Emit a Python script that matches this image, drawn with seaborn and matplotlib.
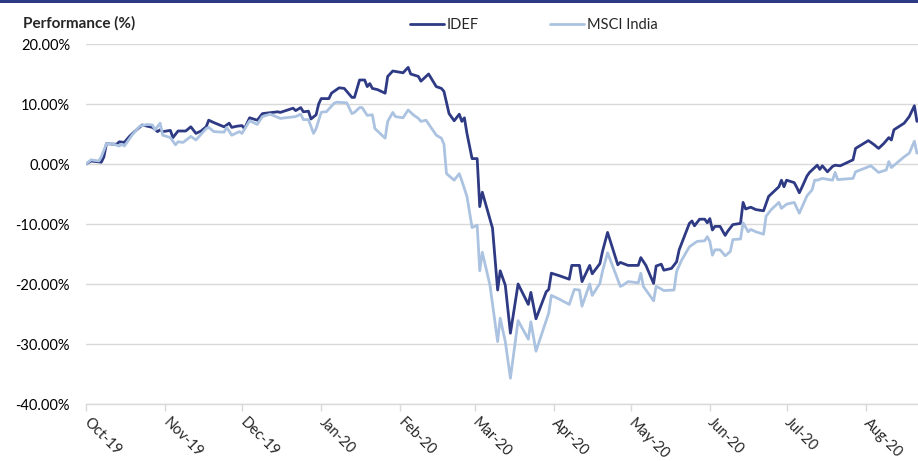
import matplotlib
matplotlib.use("Agg")
import matplotlib.pyplot as plt
import matplotlib.dates as mdates
from matplotlib.patches import Rectangle
from matplotlib.lines import Line2D
import seaborn as sns
import pandas as pd

# ---------------- data ----------------
series_names = ["IDEF", "MSCI India"]

idef_dates = [
    "2019-10-01", "2019-10-03", "2019-10-07", "2019-10-08", "2019-10-09", "2019-10-12", "2019-10-13",
    "2019-10-14", "2019-10-16", "2019-10-18", "2019-10-20", "2019-10-23", "2019-10-25", "2019-10-27",
    "2019-10-29", "2019-10-30", "2019-10-31", "2019-11-03", "2019-11-04", "2019-11-06", "2019-11-09",
    "2019-11-11", "2019-11-13", "2019-11-15", "2019-11-17", "2019-11-18", "2019-11-20", "2019-11-24",
    "2019-11-26", "2019-11-27", "2019-11-29", "2019-12-01", "2019-12-02", "2019-12-04", "2019-12-07",
    "2019-12-09", "2019-12-13", "2019-12-15", "2019-12-16", "2019-12-21", "2019-12-22", "2019-12-24",
    "2019-12-25", "2019-12-27", "2019-12-28", "2019-12-30", "2019-12-31", "2020-01-01", "2020-01-04",
    "2020-01-05", "2020-01-08", "2020-01-10", "2020-01-13", "2020-01-14", "2020-01-16", "2020-01-18",
    "2020-01-19", "2020-01-20", "2020-01-21", "2020-01-23", "2020-01-26", "2020-01-27", "2020-01-29",
    "2020-02-02", "2020-02-04", "2020-02-05", "2020-02-08", "2020-02-09", "2020-02-12", "2020-02-15",
    "2020-02-17", "2020-02-18", "2020-02-20", "2020-02-22", "2020-02-24", "2020-02-25", "2020-02-26",
    "2020-02-27", "2020-02-29", "2020-03-02", "2020-03-03", "2020-03-04", "2020-03-08", "2020-03-10",
    "2020-03-11", "2020-03-13", "2020-03-15", "2020-03-18", "2020-03-22", "2020-03-23", "2020-03-25",
    "2020-03-29", "2020-03-30", "2020-03-31", "2020-04-03", "2020-04-07", "2020-04-08", "2020-04-11",
    "2020-04-12", "2020-04-15", "2020-04-16", "2020-04-19", "2020-04-20", "2020-04-22", "2020-04-26",
    "2020-04-27", "2020-04-30", "2020-05-04", "2020-05-05", "2020-05-07", "2020-05-10", "2020-05-11",
    "2020-05-13", "2020-05-14", "2020-05-17", "2020-05-19", "2020-05-20", "2020-05-24", "2020-05-25",
    "2020-05-26", "2020-05-28", "2020-05-30", "2020-05-31", "2020-06-01", "2020-06-02", "2020-06-03",
    "2020-06-05", "2020-06-07", "2020-06-08", "2020-06-10", "2020-06-13", "2020-06-14", "2020-06-15",
    "2020-06-17", "2020-06-19", "2020-06-22", "2020-06-24", "2020-06-26", "2020-06-28", "2020-06-29",
    "2020-06-30", "2020-07-01", "2020-07-04", "2020-07-05", "2020-07-06", "2020-07-07", "2020-07-09",
    "2020-07-10", "2020-07-13", "2020-07-14", "2020-07-15", "2020-07-17", "2020-07-19", "2020-07-20",
    "2020-07-22", "2020-07-27", "2020-07-28", "2020-08-02", "2020-08-04", "2020-08-06", "2020-08-08",
    "2020-08-10", "2020-08-11", "2020-08-12", "2020-08-16", "2020-08-18", "2020-08-20", "2020-08-21",
]
idef_values = [
    0.0, 0.5, 0.3, 1.2, 3.4, 3.3, 3.3,
    3.7, 3.6, 4.6, 5.4, 6.5, 6.3, 6.1,
    5.4, 5.7, 5.4, 5.6, 4.4, 5.5, 5.5,
    6.2, 5.1, 5.5, 6.2, 7.3, 6.9, 6.2,
    6.8, 6.1, 6.3, 6.4, 5.9, 7.7, 7.3,
    8.4, 8.6, 8.7, 8.6, 9.3, 8.9, 9.4,
    8.7, 8.8, 7.5, 8.2, 10.0, 10.9, 10.9,
    11.8, 12.7, 12.6, 11.1, 11.1, 14.0, 14.0,
    12.9, 13.4, 12.6, 12.4, 11.8, 14.6, 15.5,
    15.2, 16.1, 15.0, 14.6, 13.8, 15.0, 12.9,
    12.6, 12.1, 8.4, 7.2, 8.3, 7.1, 7.7,
    5.1, 0.9, 0.9, -7.1, -4.7, -10.7, -21.0,
    -17.8, -20.2, -28.2, -20.0, -23.4, -21.4, -25.8,
    -21.3, -20.9, -18.2, -18.6, -19.2, -16.9, -16.9,
    -19.6, -16.9, -18.3, -16.6, -14.6, -11.4, -16.8,
    -16.4, -16.9, -16.9, -15.6, -16.9, -19.9, -17.0,
    -16.7, -17.7, -17.4, -16.3, -14.3, -9.9, -9.5,
    -10.3, -9.2, -9.2, -9.8, -9.1, -11.0, -10.4,
    -10.4, -11.9, -11.2, -10.1, -9.9, -6.4, -7.5,
    -7.2, -7.6, -7.8, -5.4, -4.6, -3.8, -2.7,
    -3.8, -2.7, -3.1, -3.9, -4.8, -3.9, -2.0,
    -1.4, -0.2, -0.9, -0.3, -1.3, -0.4, -0.2,
    -0.3, 0.7, 2.6, 3.9, 3.3, 2.6, 3.4,
    4.4, 4.0, 5.7, 6.8, 7.9, 9.7, 7.1,
]

msci_dates = [
    "2019-10-01", "2019-10-03", "2019-10-06", "2019-10-07", "2019-10-09", "2019-10-11", "2019-10-14",
    "2019-10-15", "2019-10-16", "2019-10-19", "2019-10-22", "2019-10-25", "2019-10-27", "2019-10-28",
    "2019-10-30", "2019-10-31", "2019-11-03", "2019-11-05", "2019-11-06", "2019-11-08", "2019-11-11",
    "2019-11-13", "2019-11-17", "2019-11-18", "2019-11-20", "2019-11-24", "2019-11-25", "2019-11-27",
    "2019-11-30", "2019-12-01", "2019-12-04", "2019-12-07", "2019-12-09", "2019-12-12", "2019-12-16",
    "2019-12-22", "2019-12-24", "2019-12-25", "2019-12-27", "2019-12-29", "2019-12-30", "2020-01-01",
    "2020-01-02", "2020-01-03", "2020-01-06", "2020-01-07", "2020-01-11", "2020-01-13", "2020-01-14",
    "2020-01-16", "2020-01-17", "2020-01-19", "2020-01-21", "2020-01-22", "2020-01-26", "2020-01-27",
    "2020-01-29", "2020-01-30", "2020-02-02", "2020-02-04", "2020-02-06", "2020-02-08", "2020-02-09",
    "2020-02-11", "2020-02-15", "2020-02-17", "2020-02-18", "2020-02-19", "2020-02-22", "2020-02-24",
    "2020-02-25", "2020-02-27", "2020-02-29", "2020-03-02", "2020-03-03", "2020-03-04", "2020-03-07",
    "2020-03-10", "2020-03-11", "2020-03-13", "2020-03-15", "2020-03-18", "2020-03-22", "2020-03-23",
    "2020-03-25", "2020-03-30", "2020-03-31", "2020-04-03", "2020-04-07", "2020-04-09", "2020-04-11",
    "2020-04-12", "2020-04-15", "2020-04-16", "2020-04-19", "2020-04-20", "2020-04-22", "2020-04-27",
    "2020-04-28", "2020-04-30", "2020-05-04", "2020-05-05", "2020-05-06", "2020-05-10", "2020-05-11",
    "2020-05-12", "2020-05-14", "2020-05-18", "2020-05-19", "2020-05-21", "2020-05-24", "2020-05-27",
    "2020-05-30", "2020-05-31", "2020-06-01", "2020-06-02", "2020-06-03", "2020-06-05", "2020-06-07",
    "2020-06-09", "2020-06-10", "2020-06-13", "2020-06-14", "2020-06-16", "2020-06-17", "2020-06-19",
    "2020-06-22", "2020-06-23", "2020-06-25", "2020-06-28", "2020-06-29", "2020-07-01", "2020-07-04",
    "2020-07-06", "2020-07-09", "2020-07-11", "2020-07-12", "2020-07-13", "2020-07-15", "2020-07-19",
    "2020-07-20", "2020-07-21", "2020-07-27", "2020-07-28", "2020-08-03", "2020-08-06", "2020-08-09",
    "2020-08-10", "2020-08-11", "2020-08-16", "2020-08-18", "2020-08-20", "2020-08-21",
]
msci_values = [
    0.0, 0.7, 0.5, 1.2, 3.4, 3.4, 3.0,
    3.3, 3.0, 4.8, 6.3, 6.6, 6.5, 5.7,
    6.8, 4.8, 4.4, 3.2, 3.7, 3.6, 4.6,
    4.0, 5.9, 6.1, 5.4, 5.3, 6.1, 4.8,
    5.4, 5.1, 7.2, 6.6, 7.9, 8.3, 7.6,
    7.9, 8.3, 7.4, 7.4, 5.1, 5.9, 8.6,
    8.7, 8.7, 10.1, 10.3, 10.2, 8.4, 8.6,
    9.4, 9.4, 8.1, 8.2, 5.9, 4.3, 7.1,
    8.6, 7.9, 7.7, 9.0, 8.2, 7.6, 7.1,
    7.3, 4.8, 4.3, 3.3, -1.6, -2.7, -1.6,
    -2.8, -5.4, -10.6, -10.2, -17.8, -14.7, -20.2,
    -29.6, -25.7, -29.6, -35.7, -26.1, -29.2, -26.3,
    -31.2, -24.8, -21.9, -22.5, -23.4, -20.9, -21.0,
    -23.7, -20.0, -21.9, -19.9, -17.9, -14.8, -20.4,
    -20.2, -19.6, -19.8, -18.2, -20.4, -22.8, -20.4,
    -20.6, -21.1, -21.0, -17.9, -16.0, -13.8, -12.9,
    -12.8, -12.1, -12.9, -15.2, -14.3, -14.3, -15.3,
    -14.6, -12.6, -12.5, -9.8, -11.3, -10.9, -11.3,
    -11.7, -8.7, -7.6, -6.4, -7.4, -6.7, -6.4,
    -8.2, -5.3, -4.3, -2.7, -2.7, -2.4, -2.7,
    -1.4, -2.6, -2.4, -1.3, -0.3, -1.4, -1.0,
    0.4, -0.6, 1.2, 1.8, 3.8, 1.8,
]

month_ticks = ["2019-10-01", "2019-11-01", "2019-12-01", "2020-01-01", "2020-02-01", "2020-03-01",
               "2020-04-01", "2020-05-01", "2020-06-01", "2020-07-01", "2020-08-01"]
y_ticks = [-40, -30, -20, -10, 0, 10, 20]
title_text = "Performance (%)"

# ---------------- build table ----------------
df = pd.concat([
    pd.DataFrame({"date": pd.to_datetime(idef_dates), "value": idef_values, "series": series_names[0]}),
    pd.DataFrame({"date": pd.to_datetime(msci_dates), "value": msci_values, "series": series_names[1]}),
], ignore_index=True)

colors = {"IDEF": "#2e3a84", "MSCI India": "#abc3e0"}

sns.set_theme(style="white")
plt.rcParams["font.family"] = ["Lato", "DejaVu Sans"]

fig = plt.figure(figsize=(9.18, 4.61), dpi=100)
ax = fig.add_axes([86 / 918, 1 - 404 / 461, 1 - 86 / 918, (404 - 44) / 461])

sns.lineplot(data=df, x="date", y="value", hue="series", hue_order=series_names,
             palette=colors, linewidth=2.0, ax=ax, legend=False, estimator=None, sort=False)

ax.set_ylim(-40, 20)
ax.set_xlim(pd.Timestamp("2019-10-01"), pd.Timestamp("2020-08-21 10:00"))
ax.set_yticks(y_ticks)
ax.set_yticklabels([f"{v:.2f}%" for v in y_ticks], fontsize=10.5, color="#000000")
ax.set_xticks(pd.to_datetime(month_ticks))
ax.xaxis.set_major_formatter(mdates.DateFormatter("%b-%y"))
for lab in ax.get_xticklabels():
    lab.set_rotation(-45)
    lab.set_ha("left")
    lab.set_va("center")
    lab.set_rotation_mode("anchor")
    lab.set_fontsize(10.5)
ax.set_xlabel("")
ax.set_ylabel("")

ax.grid(axis="y", color="#d9d9d9", linewidth=1.0)
ax.grid(axis="x", visible=False)
ax.set_axisbelow(True)
for s in ["top", "right", "left"]:
    ax.spines[s].set_visible(False)
ax.spines["bottom"].set_color("#d9d9d9")
ax.spines["bottom"].set_linewidth(1.0)
ax.tick_params(axis="x", which="major", length=5, color="#d9d9d9", width=1.0, pad=7, bottom=True)
ax.tick_params(axis="y", length=0, pad=11.5)
ax.set_facecolor("white")

# legend
handles = [Line2D([0], [0], color=colors[n], linewidth=2.0) for n in series_names]
fig.legend(handles, series_names, loc="center", bbox_to_anchor=(534 / 918, 1 - 25 / 461),
           ncol=2, frameon=False, fontsize=10.5, handlelength=2.3, handletextpad=0.2,
           columnspacing=4.9)

# title
fig.text(23 / 918, 1 - 23 / 461, title_text, fontsize=11, fontweight="bold", va="center", ha="left")

# top border bar
fig.add_artist(Rectangle((0, 1 - 3 / 461), 1, 3 / 461, transform=fig.transFigure,
                         color="#2e3a84", linewidth=0))

fig.savefig("out.png", dpi=100)
